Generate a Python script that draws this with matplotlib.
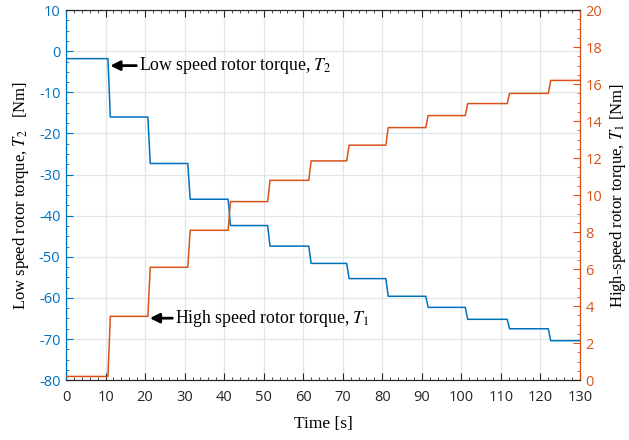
import numpy as np
import matplotlib
matplotlib.use("Agg")
import matplotlib.pyplot as plt
from matplotlib.ticker import MultipleLocator

# step instants [s] and the levels held between them
step_t = [0, 10.6, 20.7, 30.8, 41.0, 51.0, 61.4, 71.0, 80.9, 91.0, 101.0, 111.6, 122.0, 130]
t2_levels = [-1.8, -16.0, -27.3, -36.0, -42.4, -47.4, -51.6, -55.3, -59.6, -62.3, -65.2, -67.5, -70.4]
t1_levels = [0.2, 3.45, 6.1, 8.1, 9.65, 10.8, 11.85, 12.7, 13.65, 14.3, 14.95, 15.5, 16.2]

xticks = list(range(0, 131, 10))
blue = "#0072BD"
orange = "#D95319"

plt.rcParams["font.family"] = ["Liberation Serif", "DejaVu Serif"]
plt.rcParams["mathtext.fontset"] = "stix"
plt.rcParams["axes.unicode_minus"] = False


def steps(times, levels, ramp=0.6):
    # piecewise-constant trace with a short ramp at each step
    x, y = [], []
    for i, lv in enumerate(levels):
        start = times[i] + (ramp if i > 0 else 0)
        x += [start, times[i + 1]]
        y += [lv, lv]
    return x, y


fig = plt.figure(figsize=(6.29, 4.4), dpi=100)
ax = fig.add_axes([0.105, 0.136, 0.817, 0.841])
ax2 = ax.twinx()

x2, y2 = steps(step_t, t2_levels)
x1, y1 = steps(step_t, t1_levels)
ax.plot(x2, y2, color=blue, lw=1.1, zorder=3)
ax2.plot(x1, y1, color=orange, lw=1.1, zorder=3)

ax.set_xlim(0, 130)
ax.set_ylim(-80, 10)
ax2.set_ylim(0, 20)
ax.set_xticks(xticks)
ax.set_yticks(range(-80, 11, 10))
ax2.set_yticks(range(0, 21, 2))
ax.xaxis.set_minor_locator(MultipleLocator(2))
ax.yaxis.set_minor_locator(MultipleLocator(2.5))
ax2.yaxis.set_minor_locator(MultipleLocator(0.5))

ax.grid(True, which="major", color="#dfe6ec", lw=0.9)
ax.set_axisbelow(True)

tick_font = {"family": "Open Sans", "size": 10.5}
for lab in ax.get_xticklabels() + ax.get_yticklabels() + ax2.get_yticklabels():
    lab.set_fontproperties(tick_font)

ax.tick_params(axis="x", which="both", direction="in", top=True, colors="#262626", pad=7)
ax.tick_params(axis="x", which="major", length=5)
ax.tick_params(axis="x", which="minor", length=2.5)
ax.tick_params(axis="y", which="both", direction="in", colors=blue, pad=4)
ax.tick_params(axis="y", which="major", length=5)
ax.tick_params(axis="y", which="minor", length=2.5)
ax2.tick_params(axis="y", which="both", direction="in", colors=orange, pad=4)
ax2.tick_params(axis="y", which="major", length=5)
ax2.tick_params(axis="y", which="minor", length=2.5)

for side in ("top", "bottom"):
    ax2.spines[side].set_color("#262626")
ax2.spines["left"].set_color(blue)
ax2.spines["right"].set_color(orange)

ax.set_xlabel("Time [s]", fontsize=12.5, labelpad=8)
ax.set_ylabel("Low speed rotor torque, $T_2$   [Nm]", fontsize=12, labelpad=6)
ax2.set_ylabel("High-speed rotor torque, $T_1$ [Nm]", fontsize=12, labelpad=4)

ax.annotate("Low speed rotor torque, $T_2$", xy=(11.2, -3.5), xytext=(18.5, -3.5),
            fontsize=12.8, va="center",
            arrowprops=dict(arrowstyle="-|>", color="black", lw=2, mutation_scale=14,
                            shrinkA=0, shrinkB=0))
ax2.annotate("High speed rotor torque, $T_1$", xy=(21.2, 3.35), xytext=(27.6, 3.35),
             fontsize=12.8, va="center",
             arrowprops=dict(arrowstyle="-|>", color="black", lw=2, mutation_scale=14,
                             shrinkA=0, shrinkB=0))

fig.savefig("out.png", dpi=100)
